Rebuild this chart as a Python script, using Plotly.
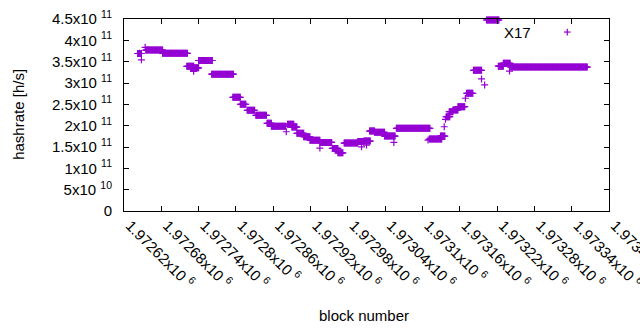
import plotly.graph_objects as go

# ---- data (block number, hashrate in h/s) ----
seg_start = [1972642, 1972655, 1972682, 1972721, 1972727, 1972740, 1972761, 1972795,
             1972807, 1972818, 1972832, 1972850, 1972857, 1972883, 1972890, 1972898,
             1972909, 1972919, 1972935, 1972955, 1972964, 1972974, 1972996, 1973006,
             1973015, 1973023, 1973039, 1973058, 1973111, 1973129, 1973138, 1973143,
             1973149, 1973157, 1973171, 1973182, 1973203, 1973222, 1973230, 1973242]
seg_end = [1972648, 1972682, 1972722, 1972732, 1972740, 1972762, 1972796, 1972807,
           1972816, 1972830, 1972849, 1972857, 1972880, 1972893, 1972898, 1972909,
           1972919, 1972935, 1972954, 1972964, 1972972, 1972996, 1973005, 1973016,
           1973023, 1973039, 1973056, 1973112, 1973131, 1973136, 1973144, 1973149,
           1973157, 1973168, 1973181, 1973195, 1973223, 1973230, 1973241, 1973365]
seg_value = [369.1e9, 377.1e9, 369.6e9, 339.0e9, 335.5e9, 352.7e9, 320.7e9, 266.4e9,
             250.2e9, 236.1e9, 224.3e9, 205.5e9, 198.4e9, 203.1e9, 196.8e9, 182.0e9,
             174.0e9, 165.8e9, 160.8e9, 146.7e9, 136.4e9, 159.2e9, 162.7e9, 163.9e9,
             187.4e9, 184.6e9, 175.6e9, 193.7e9, 168.6e9, 175.6e9, 221.0e9, 232.8e9,
             236.8e9, 244.5e9, 276.0e9, 329.6e9, 447.6e9, 339.5e9, 346.1e9, 337.4e9]

pt_block = [1972645, 1972648, 1972654, 1972732, 1972881, 1972935, 1973002, 1973010,
            1973054, 1973109, 1973135, 1973137, 1973169, 1973195, 1973200, 1973240]
pt_value = [369.6e9, 354.3e9, 383.7e9, 327.3e9, 185.7e9, 147.4e9, 150.5e9, 154.5e9,
            160.8e9, 166.2e9, 197.5e9, 214.9e9, 264.3e9, 309.6e9, 295.5e9, 328.0e9]

x_tickvals = [1972620 + 60 * i for i in range(14)]
x_ticktext = ["1.97262x10 <sup>6</sup>", "1.97268x10 <sup>6</sup>", "1.97274x10 <sup>6</sup>",
              "1.9728x10 <sup>6</sup>", "1.97286x10 <sup>6</sup>", "1.97292x10 <sup>6</sup>",
              "1.97298x10 <sup>6</sup>", "1.97304x10 <sup>6</sup>", "1.9731x10 <sup>6</sup>",
              "1.97316x10 <sup>6</sup>", "1.97322x10 <sup>6</sup>", "1.97328x10 <sup>6</sup>",
              "1.97334x10 <sup>6</sup>", "1.9734x10 <sup>6</sup>"]
y_tickvals = [0, 5e10, 1e11, 1.5e11, 2e11, 2.5e11, 3e11, 3.5e11, 4e11, 4.5e11]
y_ticktext = ["0", "5x10 <sup>10</sup>", "1x10 <sup>11</sup>", "1.5x10 <sup>11</sup>",
              "2x10 <sup>11</sup>", "2.5x10 <sup>11</sup>", "3x10 <sup>11</sup>",
              "3.5x10 <sup>11</sup>", "4x10 <sup>11</sup>", "4.5x10 <sup>11</sup>"]

# one point per block inside each constant stretch, plus isolated points
xs, ys = [], []
for s, e, v in zip(seg_start, seg_end, seg_value):
    for b in range(s, e + 1):
        xs.append(b)
        ys.append(v)
xs += pt_block
ys += pt_value

PURPLE = "#9400d3"
FONT = "Liberation Sans"

fig = go.Figure()
fig.add_trace(go.Scatter(
    x=xs, y=ys, mode="markers", name="X17", showlegend=False, cliponaxis=False,
    hoverinfo="skip",
    marker=dict(symbol="cross-thin", size=5, color=PURPLE,
                line=dict(color=PURPLE, width=1.2)),
))

axis_common = dict(showline=True, linecolor="black", linewidth=1, mirror="allticks",
                   ticks="inside", ticklen=5, tickcolor="black", tickwidth=1,
                   showgrid=False, zeroline=False,
                   tickfont=dict(family=FONT, size=15, color="black"))

fig.update_xaxes(range=[1972620, 1973400], tickmode="array", tickvals=x_tickvals,
                 ticktext=x_ticktext, tickangle=45, automargin=False,
                 ticklabeloverflow="allow", ticklabelshift=6, ticklabelstandoff=-1,
                 **axis_common)
fig.update_yaxes(range=[0, 4.5e11], tickmode="array", tickvals=y_tickvals,
                 ticktext=y_ticktext, automargin=False, ticklabelstandoff=8, **axis_common)

fig.add_annotation(text="block number", xref="paper", yref="paper", x=0.495, y=-0.542,
                   showarrow=False, xanchor="center", yanchor="middle",
                   font=dict(family=FONT, size=15, color="black"))
fig.add_annotation(text="hashrate [h/s]", xref="paper", yref="paper", x=-0.219, y=0.505,
                   showarrow=False, xanchor="center", yanchor="middle", textangle=-90,
                   font=dict(family=FONT, size=15, color="black"))

# key, gnuplot style: text then sample
fig.add_annotation(text="X17", xref="paper", yref="paper", x=0.843, y=0.932,
                   showarrow=False, xanchor="right", yanchor="middle",
                   font=dict(family=FONT, size=15, color="black"))
kx, ky, dx, dy = 0.914, 0.932, 0.0069, 0.0175
fig.add_shape(type="line", xref="paper", yref="paper", x0=kx - dx, x1=kx + dx, y0=ky, y1=ky,
              line=dict(color=PURPLE, width=1.2))
fig.add_shape(type="line", xref="paper", yref="paper", x0=kx, x1=kx, y0=ky - dy, y1=ky + dy,
              line=dict(color=PURPLE, width=1.2))

fig.update_layout(width=640, height=330, margin=dict(l=124, r=31, t=19, b=119),
                  paper_bgcolor="white", plot_bgcolor="white", hovermode=False,
                  font=dict(family=FONT, size=15, color="black"))

fig.write_html("out.html", config={"displayModeBar": False, "staticPlot": True},
               post_script="document.body.style.margin='0';document.body.style.overflow='hidden';")
